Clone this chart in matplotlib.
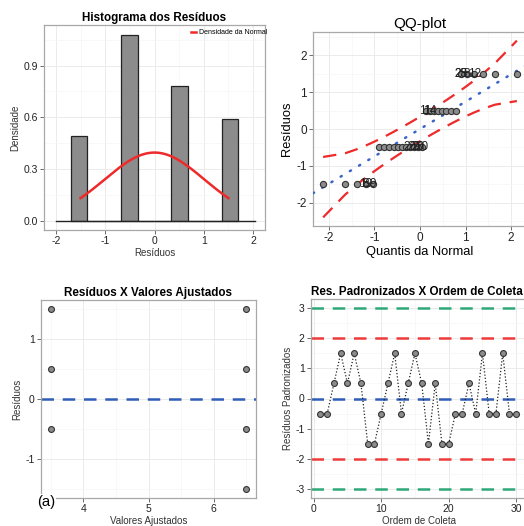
import numpy as np
import matplotlib.pyplot as plt
from matplotlib.ticker import MultipleLocator
from statistics import NormalDist

plt.rcParams['font.family'] = ['Liberation Sans', 'DejaVu Sans']
plt.rcParams['axes.unicode_minus'] = False

# residuos padronizados na ordem de coleta
ordem = np.arange(1, 31)
res_pad = np.array([-0.5, -0.5, 0.5, 1.5, 0.5, 1.5, 0.5, -1.5, -1.5, -0.5,
                    0.5, 1.5, -0.5, 0.5, 1.5, 0.5, -1.5, 0.5, -1.5, -1.5,
                    -0.5, -0.5, 0.5, -0.5, 1.5, -0.5, -0.5, 1.5, -0.5, -0.5])

# residuos x valores ajustados
ajustados = [3.5, 3.5, 3.5, 6.5, 6.5, 6.5, 6.5]
res_ajustados = [1.5, 0.5, -0.5, 1.5, 0.5, -0.5, -1.5]

# rotulos do qq-plot (posicao no vetor ordenado, texto)
qq_label_rank = [4, 4, 5, 13, 14, 15, 16, 17, 18, 25, 25, 26, 27]
qq_label_text = ['8', '19', '9', '26', '29', '20', '30', '11', '14', '28', '25', '8', '12']

W, H = 524, 526
fig = plt.figure(figsize=(W / 100, H / 100), dpi=100, facecolor='white')


def box(l, r, t, b):
    return [l / W, 1 - b / H, (r - l) / W, (b - t) / H]


def style(ax, xmaj, ymaj, tsize):
    ax.xaxis.set_major_locator(MultipleLocator(xmaj))
    ax.xaxis.set_minor_locator(MultipleLocator(xmaj / 2))
    ax.yaxis.set_major_locator(MultipleLocator(ymaj))
    ax.yaxis.set_minor_locator(MultipleLocator(ymaj / 2))
    ax.grid(which='major', color='#EBEBEB', lw=0.7)
    ax.grid(which='minor', color='#F5F5F5', lw=0.5)
    ax.set_axisbelow(True)
    for s in ax.spines.values():
        s.set_color('#A8A8A8')
        s.set_linewidth(0.9)
    ax.tick_params(which='major', length=3, width=0.6, color='#555555',
                   labelsize=tsize, pad=1.5, labelcolor='#222222')
    ax.tick_params(which='minor', length=0)


# ---- histograma
ax1 = fig.add_axes(box(44, 265, 25, 230))
ax1.hist(res_pad, bins=10, range=(-1.7, 1.7), density=True,
         color='#8C8C8C', edgecolor='#222222', linewidth=0.9, zorder=2)
ax1.plot([-2, 2.03], [0, 0], color='#222222', lw=1.0, zorder=3)
mu, sd = res_pad.mean(), res_pad.std(ddof=1)
xs = np.linspace(res_pad.min(), res_pad.max(), 200)
ax1.plot(xs, [NormalDist(mu, sd).pdf(v) for v in xs], color='#EE2A2A', lw=1.8,
         zorder=4, label='Densidade da Normal')
ax1.set_xlim(-2.24, 2.24)
ax1.set_ylim(-0.054, 1.136)
style(ax1, 1, 0.3, 7.5)
ax1.yaxis.set_major_formatter(plt.FuncFormatter(lambda v, p: f'{v:.1f}'))
ax1.set_title('Histograma dos Resíduos', fontsize=8.4, fontweight='bold', pad=3)
ax1.set_xlabel('Resíduos', fontsize=7, labelpad=1, color='#333333')
ax1.set_ylabel('Densidade', fontsize=7, labelpad=2, color='#333333')
leg = ax1.legend(loc='upper right', fontsize=5, frameon=False, handlelength=0.7,
                 handletextpad=0.4, borderaxespad=0.2, bbox_to_anchor=(1.03, 1.0))

# ---- qq-plot
ax2 = fig.add_axes(box(313, 527, 32, 226))
n = len(res_pad)
y_ord = np.sort(res_pad, kind='stable')
P = (np.arange(1, n + 1) - 0.5) / n
nd = NormalDist()
z = np.array([nd.inv_cdf(p) for p in P])
q1, q3 = np.percentile(res_pad, [25, 75])
slope = (q3 - q1) / (nd.inv_cdf(0.75) - nd.inv_cdf(0.25))
inter = q1 - slope * nd.inv_cdf(0.25)
zz = nd.inv_cdf(0.975)
se = slope / np.array([nd.pdf(v) for v in z]) * np.sqrt(P * (1 - P) / n)
fit = inter + slope * z
xl = np.array([-2.35, 2.35])
ax2.plot(xl, inter + slope * xl, color='#3A63C8', lw=1.8, ls=(0, (0.5, 3.8)),
         dash_capstyle='round', zorder=3)
ax2.plot(z, fit + zz * se, color='#EE2A2A', lw=1.6, ls=(0, (6, 4)), zorder=3)
ax2.plot(z, fit - zz * se, color='#EE2A2A', lw=1.6, ls=(0, (6, 4)), zorder=3)
ax2.scatter(z, y_ord, s=20, facecolor='#8C8C8C', edgecolor='#333333', lw=0.8, zorder=4)
for r, t in zip(qq_label_rank, qq_label_text):
    ax2.text(z[r - 1], y_ord[r - 1], t, fontsize=8.5, ha='center', va='center',
             color='#222222', zorder=5)
ax2.set_xlim(-2.35, 2.35)
ax2.set_ylim(-2.63, 2.63)
style(ax2, 1, 1, 8.5)
ax2.set_title('QQ-plot', fontsize=11, pad=3)
ax2.set_xlabel('Quantis da Normal', fontsize=9.3, labelpad=1)
ax2.set_ylabel('Resíduos', fontsize=9.3, labelpad=2)

# ---- residuos x ajustados
ax3 = fig.add_axes(box(41, 256, 300, 498))
ax3.axhline(0, color='#2F5DB8', lw=1.8, ls=(0, (5, 3.5)), zorder=2)
ax3.scatter(ajustados, res_ajustados, s=18, facecolor='#8C8C8C', edgecolor='#333333',
            lw=0.8, zorder=3)
ax3.set_xlim(3.35, 6.65)
ax3.set_ylim(-1.65, 1.65)
style(ax3, 1, 1, 7.5)
ax3.set_title('Resíduos X Valores Ajustados', fontsize=8.4, fontweight='bold', pad=3)
ax3.set_xlabel('Valores Ajustados', fontsize=7, labelpad=1, color='#333333')
ax3.set_ylabel('Resíduos', fontsize=7, labelpad=2, color='#333333')
fig.text(37 / W, 1 - 506 / H, '(a)', fontsize=10.6, ha='left', va='baseline',
         bbox=dict(facecolor='white', edgecolor='none', pad=0.5), zorder=10)

# ---- residuos padronizados x ordem
ax4 = fig.add_axes(box(311, 527, 299, 498))
for lv, c in [(3, '#2EA879'), (-3, '#2EA879'), (2, '#EE3B3B'), (-2, '#EE3B3B'), (0, '#2F5DB8')]:
    ax4.axhline(lv, color=c, lw=1.8, ls=(0, (5, 3.5)), zorder=2)
ax4.plot(ordem, res_pad, color='#222222', lw=0.9, ls=(0, (1, 1.6)), zorder=3)
ax4.scatter(ordem, res_pad, s=18, facecolor='#8C8C8C', edgecolor='#333333', lw=0.8, zorder=4)
ax4.set_xlim(-0.4, 31.6)
ax4.set_ylim(-3.3, 3.3)
style(ax4, 10, 1, 7.5)
ax4.set_title('Res. Padronizados X Ordem de Coleta', fontsize=8.4, fontweight='bold',
              pad=3, loc='left')
ax4.set_xlabel('Ordem de Coleta', fontsize=7, labelpad=1, color='#333333')
ax4.set_ylabel('Resíduos Padronizados', fontsize=7, labelpad=2, color='#333333')

fig.savefig('out.png', dpi=100, facecolor='white')
